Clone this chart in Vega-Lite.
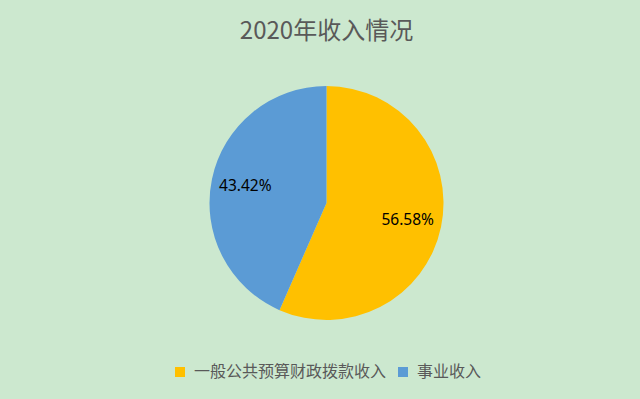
{
  "$schema": "https://vega.github.io/schema/vega-lite/v6.json",
  "width": 640,
  "height": 399,
  "autosize": {"type": "fit", "contains": "padding"},
  "padding": {"top": 20, "bottom": 53, "left": 13, "right": 0},
  "background": "#CCE8CF",
  "config": {"view": {"stroke": null}, "font": "Noto Sans CJK SC"},
  "title": {"text": "2020年收入情况", "fontSize": 24, "fontWeight": "normal", "color": "#595959", "font": "Noto Sans CJK SC", "offset": 16},
  "data": {"values": [
    {"category": "一般公共预算财政拨款收入", "value": 56.58, "label": "56.58%", "order": 1},
    {"category": "事业收入", "value": 43.42, "label": "43.42%", "order": 2}
  ]},
  "encoding": {
    "theta": {"field": "value", "type": "quantitative", "stack": true},
    "order": {"field": "order", "type": "quantitative"},
    "color": {"field": "category", "type": "nominal", "sort": ["一般公共预算财政拨款收入", "事业收入"],
      "scale": {"domain": ["一般公共预算财政拨款收入", "事业收入"], "range": ["#FFC000", "#5B9BD5"]},
      "legend": {"orient": "none", "legendX": 159, "legendY": 304, "direction": "horizontal", "title": null, "symbolType": "square", "symbolSize": 100, "symbolStrokeWidth": 0, "labelFontSize": 16, "labelLimit": 400, "labelColor": "#595959", "labelFont": "Noto Sans CJK SC", "columnPadding": 8, "labelOffset": 6}}
  },
  "layer": [
    {"mark": {"type": "arc", "outerRadius": 117}},
    {"mark": {"type": "text", "radius": 83, "fontSize": 15.5, "color": "#000000", "font": "Noto Sans"},
     "encoding": {"text": {"field": "label"}, "color": {"value": "#000000"}}}
  ]
}
